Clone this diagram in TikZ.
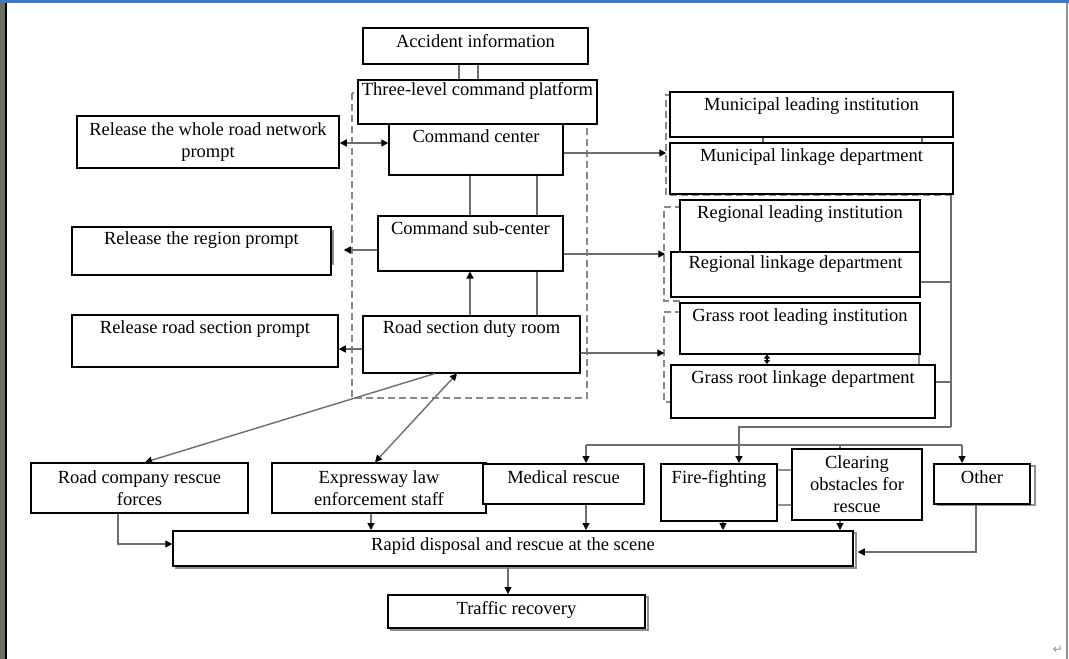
\documentclass[tikz,border=0pt]{standalone}
\usepackage{fontspec}
\setmainfont{Liberation Serif}
\newfontfamily\symfont{DejaVu Sans}
\usetikzlibrary{arrows.meta}
\definecolor{linegray}{HTML}{6E6E6E}
\definecolor{dashgray}{HTML}{8A8A8A}
\definecolor{shadegray}{HTML}{909090}
\definecolor{stripgreen}{HTML}{6C6E60}
\definecolor{topblue}{HTML}{3A78D4}
\newcommand\fs{\fontsize{18.5}{22}\selectfont}
\tikzset{
  box/.style={draw=black, line width=1.5pt, fill=white, inner sep=0pt, font=\fs},
  conn/.style={draw=linegray, line width=1.4pt},
  arr/.style={conn, -{Triangle[length=7pt,width=7pt,color=black]}},
  darr/.style={conn, {Triangle[length=7pt,width=7pt,color=black]}-{Triangle[length=7pt,width=7pt,color=black]}},
  smalldarr/.style={draw=black, line width=1.2pt, {Triangle[length=4pt,width=6pt]}-{Triangle[length=4pt,width=6pt]}},
  dashline/.style={draw=dashgray, line width=1.6pt, dash pattern=on 7pt off 4pt},
  shade/.style={draw=shadegray, line width=1.3pt},
}
% box with its text on one line near the top: name, x1, y1, x2, y2, baseline offset, text
\newcommand\topbox[7]{%
  \pgfmathsetmacro\mybw{#4-#2}%
  \pgfmathsetmacro\mybd{#5-#3-#6}%
  \pgfmathsetmacro\mybx{(#2+#4)/2}%
  \node[box, anchor=north, minimum width=\mybw pt, text height=#6pt, text depth=\mybd pt] (#1) at (\mybx,#3) {#7};}
% box with its text centred: name, x1, y1, x2, y2, text
\newcommand\cenbox[6]{%
  \pgfmathsetmacro\mybw{#4-#2}%
  \pgfmathsetmacro\mybh{#5-#3}%
  \pgfmathsetmacro\mybx{(#2+#4)/2}%
  \pgfmathsetmacro\myby{(#3+#5)/2}%
  \node[box, minimum width=\mybw pt, minimum height=\mybh pt, align=center] (#1) at (\mybx,\myby) {#6};}
\begin{document}
\begin{tikzpicture}[x=1pt,y=-1pt]
\useasboundingbox (0,0) rectangle (1069,659);
\fill[white] (0,0) rectangle (1069,659);
% window frame
\fill[stripgreen] (0,0) rectangle (5,659);
\fill[black] (5,0) rectangle (7,659);
\fill[topblue] (0,0) rectangle (1069,2.5);
\fill[shadegray] (1066,2.5) rectangle (1067.5,659);
\node[text=shadegray, font=\symfont\fontsize{12}{12}\selectfont, inner sep=0pt] (pmark) at (1058,650) {↵};

% dashed groups
\draw[dashline] (352,93) rectangle (587,398);
\draw[dashline] (672,95) -| (666,195) -- (950,195);
\draw[dashline] (682,207) -| (664,301) -- (682,301);
\draw[dashline] (682,312) -| (664,402) -- (673,402);

% shadows behind boxes
\draw[shade] (176,533) rectangle (856,568);
\draw[shade] (391,597) rectangle (648,630);
\draw[shade] (938,466) rectangle (1035,505);
\draw[shade] (770,470) rectangle (793,505);
\draw[draw=shadegray, line width=2.5pt] (333,230) -- (333,265);
\draw[shade] (900,340) -- (919,340) -- (919,364);

% boxes
\topbox{acc}{363}{27}{588}{63}{20}{Accident information}
\topbox{cc}{389}{123}{563}{174}{19}{Command center}
\topbox{tlp}{358}{79}{597}{123}{16}{Three-level command platform}
\topbox{sub}{378}{215}{563}{270}{19}{Command sub-center}
\topbox{dr}{363}{315}{580}{372}{18}{Road section duty room}
\cenbox{whole}{77}{116}{339}{168}{Release the whole road network\\prompt}
\topbox{rel2}{72}{226}{331}{274}{18}{Release the region prompt}
\topbox{rel3}{72}{314}{338}{366}{19}{Release road section prompt}
\topbox{mli}{670}{91}{953}{136}{19}{Municipal leading institution}
\topbox{mld}{670}{142}{953}{193}{19}{Municipal linkage department}
\topbox{rld}{671}{251}{920}{296}{17}{Regional linkage department}
\topbox{rli}{680}{199}{920}{251}{19}{Regional leading institution}
\topbox{gli}{680}{302}{920}{353}{19}{Grass root leading institution}
\topbox{gld}{671}{364}{935}{417}{19}{Grass root linkage department}
\cenbox{rc}{31}{463}{248}{513}{Road company rescue\\forces}
\cenbox{ex}{272}{463}{486}{513}{Expressway law\\enforcement staff}
\topbox{med}{483}{463}{644}{503}{20}{Medical rescue}
\topbox{ff}{661}{463}{777}{520}{20}{Fire-fighting}
\cenbox{clr}{792}{449}{922}{520}{Clearing\\obstacles for\\rescue}
\topbox{oth}{934}{463}{1030}{503}{20}{Other}
\topbox{rap}{173}{530}{853}{565}{20}{Rapid disposal and rescue at the scene}
\topbox{tr}{388}{594}{645}{627}{20}{Traffic recovery}

% connectors in the command column
\draw[conn] (acc.south -| 459,0) -- (tlp.north -| 459,0);
\draw[conn] (acc.south -| 478,0) -- (tlp.north -| 478,0);
\draw[conn] (cc.south -| 470,0) -- (sub.north -| 470,0);
\draw[conn] (cc.south -| 537,0) -- (sub.north -| 537,0);
\draw[conn] (sub.south -| 537,0) -- (dr.north -| 537,0);
\draw[arr] (dr.north -| 470,0) -- (sub.south -| 470,0);

% prompts
\draw[darr] (whole.east |- 0,143) -- (cc.west |- 0,143);
\draw[arr, shorten >=12pt] (sub.west |- 0,250) -- (rel2.east |- 0,250);
\draw[arr] (dr.west |- 0,349) -- (rel3.east |- 0,349);

% to the institutions
\draw[arr, shorten >=3pt] (cc.east |- 0,153) -- (mld.west |- 0,153);
\draw[arr, shorten >=5pt] (sub.east |- 0,254) -- (rld.west |- 0,254);
\draw[arr, shorten >=15pt] (dr.east |- 0,353) -- (gli.west |- 0,353);
\draw[conn] (mli.south -| 922,0) -- (mld.north -| 922,0);
\draw[conn] (mli.south -| 763,0) -- (mld.north -| 763,0);
\draw[smalldarr] (gli.south -| 767,0) -- (gld.north -| 767,0);

% right trunk
\coordinate (trunk) at (951,427);
\draw[conn] (mld.south -| trunk) -- (trunk);
\draw[conn] (rld.east |- 0,282) -- (951,282);
\draw[conn] (gld.east |- 0,382) -- (951,382);
\draw[arr] (trunk) -- (739,427) -- (ff.north -| 739,0);

% distribution row
\coordinate (dl) at (586,445);
\coordinate (dr2) at (962,445);
\draw[conn] (dl) -- (dr2);
\draw[arr] (dl) -- (med.north -| dl);
\draw[arr] (dr2) -- (oth.north -| dr2);
\draw[conn] (840,445) -- (clr.north -| 840,0);

% field forces
\draw[arr] (dr.south -| 435,0) -- (rc.north -| 145,0);
\draw[darr] (dr.south -| 457,0) -- (ex.north -| 375,0);

% into rapid disposal
\draw[arr] (rc.south -| 118,0) -- (118,544) -- (rap.west |- 0,544);
\draw[arr] (ex.south -| 371,0) -- (rap.north -| 371,0);
\draw[arr] (med.south -| 586,0) -- (rap.north -| 586,0);
\draw[arr] (ff.south -| 723,0) -- (rap.north -| 723,0);
\draw[arr] (clr.south -| 840,0) -- (rap.north -| 840,0);
\draw[arr, shorten >=4pt] (oth.south -| 976,0) -- (976,552) -- (rap.east |- 0,552);
\draw[arr] (rap.south -| 508,0) -- (tr.north -| 508,0);
\end{tikzpicture}
\end{document}
